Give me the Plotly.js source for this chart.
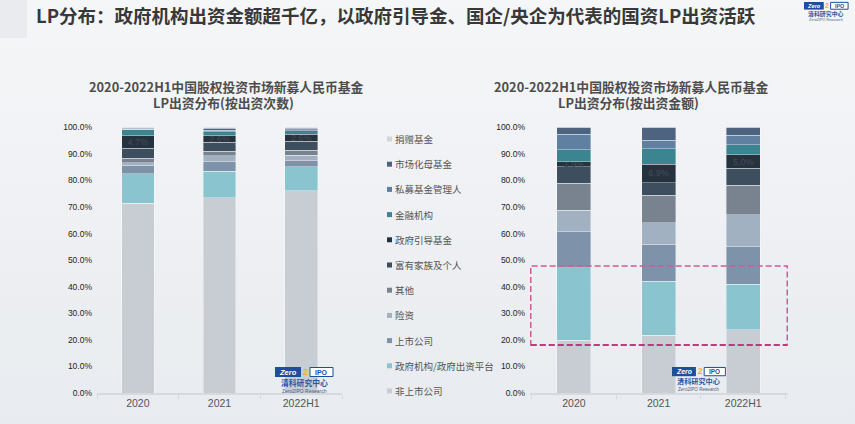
<!DOCTYPE html>
<html>
<head>
<meta charset="utf-8">
<script src="https://cdn.plot.ly/plotly-3.0.1.min.js"></script>
<style>
  html, body { margin: 0; padding: 0; }
  body { width: 855px; height: 424px; overflow: hidden; background: linear-gradient(#f5f6f8, #e8ebef); }
  #chart { width: 855px; height: 424px; }
</style>
</head>
<body>
<div id="chart"></div>
<script>
// categories and series (bottom of stack first)
const YEARS = ['2020', '2021', '2022H1'];
const SERIES = ['非上市公司', '政府机构/政府出资平台', '上市公司', '险资', '其他', '富有家族及个人',
  '政府引导基金', '金融机构', '私募基金管理人', '市场化母基金', '捐赠基金'];
const COLORS = ['#c8ccd3', '#89c4cf', '#7e93a9', '#a2b1c1', '#78838f', '#3d4f5e',
  '#27323f', '#3a8590', '#5f80a0', '#4e6380', '#d0d6de'];
const Y_TICKS = [0, 10, 20, 30, 40, 50, 60, 70, 80, 90, 100];

// share by number of commitments (%), same order as SERIES
const COUNT_2020 = [71.4, 11.2, 3.1, 1.0, 1.6, 3.9, 4.7, 2.1, 0.3, 0.3, 0.4];
const COUNT_2021 = [73.5, 9.9, 3.6, 2.25, 1.75, 3.3, 2.6, 1.5, 0.4, 0.8, 0.4];
const COUNT_2022H1 = [76.2, 9.0, 2.25, 2.1, 1.9, 3.3, 2.6, 1.4, 0.4, 0.5, 0.35];

// share by committed amount (%)
const AMOUNT_2020 = [19.8, 27.4, 13.4, 8.2, 10.1, 6.3, 1.9, 4.5, 5.8, 2.6, 0];
const AMOUNT_2021 = [21.7, 20.3, 13.9, 8.1, 10.5, 4.7, 6.9, 5.9, 3.2, 4.8, 0];
const AMOUNT_2022H1 = [23.75, 17.25, 14.1, 12.0, 11.1, 6.4, 5.0, 3.9, 3.6, 2.9, 0];

const LABELED = '政府引导基金';

const W = 855, H = 424;
const px = (x) => x / W;
const py = (y) => 1 - y / H;
const FONT = 'Liberation Sans, Arial, sans-serif';
const CJK = 'Noto Sans CJK SC, sans-serif';

function makeTraces(cols, xa, ya) {
  return SERIES.map((name, i) => {
    const t = {
      type: 'bar', name, x: YEARS, y: cols.map((c) => c[i]),
      xaxis: xa, yaxis: ya, showlegend: false,
      marker: { color: COLORS[i], line: { color: 'rgba(255,255,255,0.45)', width: 0.8 } },
      hoverinfo: 'name+y',
    };
    if (name === LABELED) {
      t.text = t.y.map((v) => v.toFixed(1) + '%');
      t.textposition = 'inside';
      t.insidetextanchor = 'middle';
      t.constraintext = 'none';
      t.textfont = { family: FONT, size: 9, color: '#454c56' };
    }
    return t;
  });
}

const traces = makeTraces([COUNT_2020, COUNT_2021, COUNT_2022H1], 'x', 'y')
  .concat(makeTraces([AMOUNT_2020, AMOUNT_2021, AMOUNT_2022H1], 'x2', 'y2'));

const yax = (anchor) => ({
  anchor, domain: [py(393), py(127.3)], range: [0, 100],
  tickmode: 'array', tickvals: Y_TICKS, ticktext: Y_TICKS.map((v) => v.toFixed(1) + '%'),
  showgrid: false, zeroline: false, showline: false,
  ticks: '', ticklabelstandoff: 4, tickfont: { family: FONT, size: 8.5, color: '#1e1e1e' }, fixedrange: true,
});
const xax = (d0, d1, anchor) => ({
  domain: [px(d0), px(d1)], anchor, type: 'category', showgrid: false, zeroline: false,
  showline: true, linecolor: '#d6d9de', linewidth: 1.5, ticks: 'outside', tickson: 'boundaries',
  ticklen: 4, tickcolor: '#d6d9de', tickfont: { family: FONT, size: 10.5, color: '#555' }, fixedrange: true,
});

const annotations = [];
const shapes = [];
const note = (x, y, text, size, color, fam, anchor) => annotations.push({
  xref: 'paper', yref: 'paper', x: px(x), y: py(y), xanchor: anchor || 'center', yanchor: 'middle',
  showarrow: false, text, font: { family: fam || FONT, size, color },
});

// page title + corner block
shapes.push({ type: 'rect', xref: 'paper', yref: 'paper', x0: 0, x1: px(27), y0: py(38), y1: 1, fillcolor: '#e9ebee', line: { width: 0 }, layer: 'below' });
note(34, 15, '<b>LP分布：政府机构出资金额超千亿，以政府引导金、国企/央企为代表的国资LP出资活跃</b>', 18.5, '#383838', CJK, 'left');

// chart titles
[[226, '按出资次数'], [631, '按出资金额']].forEach(([cx, by]) => {
  note(cx, 86.5, '<b>2020-2022H1中国股权投资市场新募人民币基金</b>', 12.8, '#4d4d4d', CJK);
  note(cx - 3, 102.5, '<b>LP出资分布(' + by + ')</b>', 12.8, '#4d4d4d', CJK);
});

// legend (top item first)
SERIES.slice().reverse().forEach((name, k) => {
  const c = COLORS[SERIES.length - 1 - k];
  const yc = 139 + k * 25.2;
  shapes.push({ type: 'rect', xref: 'paper', yref: 'paper', x0: px(387), x1: px(392), y0: py(yc + 2.5), y1: py(yc - 2.5), fillcolor: c, line: { width: 0 } });
  note(393, yc, name, 9.5, '#555', CJK, 'left');
});

// dashed highlight box on the amount chart
shapes.push({ type: 'rect', xref: 'x2', yref: 'y2', x0: -0.51, x1: 2.52, y0: 18.1, y1: 47.8, line: { color: '#d4589b', width: 1.5, dash: '6px,3px' } });
shapes.push({ type: 'line', xref: 'x2', yref: 'y2', x0: -0.51, x1: 2.52, y0: 18.1, y1: 18.1, line: { color: '#b8246e', width: 1.5, dash: '6px,3px' } });

// Zero2IPO logos
function logo(x, y, s) {
  const box = (a, b, top, bot, fill, line) => shapes.push({
    type: 'rect', xref: 'paper', yref: 'paper', x0: px(x + a * s), x1: px(x + b * s),
    y0: py(y + bot * s), y1: py(y + top * s), fillcolor: fill, line: line || { width: 0 },
  });
  box(0, 26, 0, 10, '#1f4e9e');
  box(35, 58, 0.5, 9.5, '#ffffff', { color: '#1f4e9e', width: 1 });
  const t = (dx, dy, text, size, color, fam) => note(x + dx * s, y + dy * s, text, size * s, color, fam);
  t(13, 5, '<b><i>Zero</i></b>', 7.5, '#ffffff');
  t(30.5, 5, '<b>2</b>', 9, '#f2b01e');
  t(46.5, 5, '<b>IPO</b>', 7, '#1f4e9e');
  t(29, 15.5, '<b>清科研究中心</b>', 7.8, '#2756a5', CJK);
  t(29, 24, 'Zero2IPO Research', 5, '#4a5f80');
}
logo(275, 367, 1);
logo(672, 367, 0.92);
logo(804, 2, 0.76);

const layout = {
  width: W, height: H, margin: { l: 0, r: 0, t: 0, b: 0 },
  paper_bgcolor: 'rgba(0,0,0,0)', plot_bgcolor: 'rgba(0,0,0,0)',
  barmode: 'stack', bargap: 0.6, showlegend: false,
  xaxis: xax(97, 342, 'y'), yaxis: yax('x'),
  xaxis2: xax(530, 788, 'y2'), yaxis2: yax('x2'),
  annotations, shapes,
};

Plotly.newPlot('chart', traces, layout, { displayModeBar: false, staticPlot: true });
</script>
</body>
</html>
